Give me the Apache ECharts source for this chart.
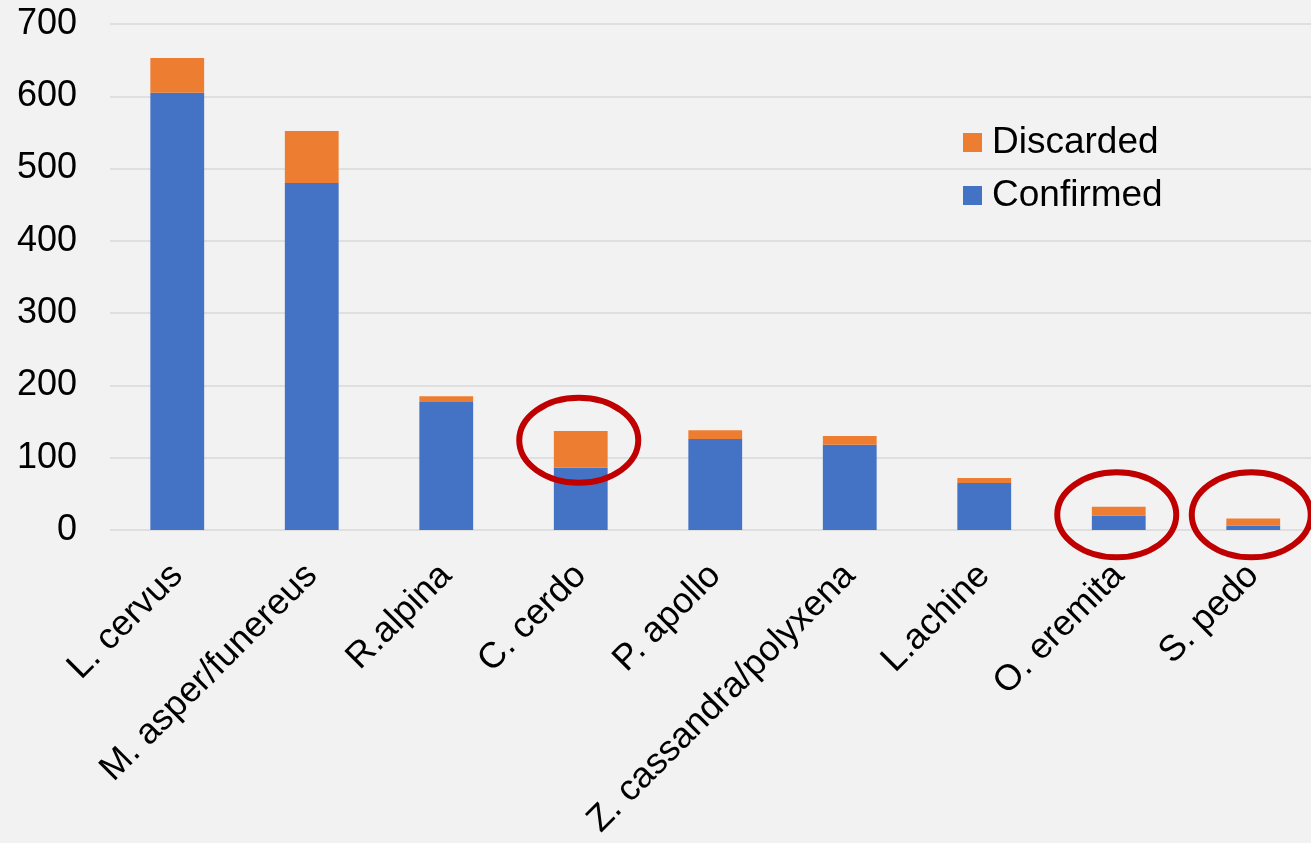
<!DOCTYPE html>
<html>
<head>
<meta charset="utf-8">
<script src="https://cdn.jsdelivr.net/npm/echarts@6/dist/echarts.min.js"></script>
<style>
html,body{margin:0;padding:0;background:#f2f2f2;}
#chart{width:1311px;height:843px;}
</style>
</head>
<body>
<div id="chart"></div>
<script>
const categories = ['L. cervus','M. asper/funereus','R.alpina','C. cerdo','P. apollo','Z. cassandra/polyxena','L.achine','O. eremita','S. pedo'];
const confirmed = [605, 480, 177, 86, 126, 118, 65, 20, 6];
const discarded = [48, 72, 8, 51, 12, 12, 7, 12, 10];
const yTicks = [0, 100, 200, 300, 400, 500, 600, 700];
// highlighted categories (index, centre value) for the red ellipse annotations
const highlights = [[3, 124], [7, 21], [8, 21]];

const font = '"Liberation Sans", Arial, sans-serif';
const chart = echarts.init(document.getElementById('chart'), null, {renderer: 'canvas'});
chart.setOption({
  backgroundColor: '#f2f2f2',
  animation: false,
  textStyle: {fontFamily: font},
  grid: {left: 110, width: 1210.5, top: 24, bottom: 313, containLabel: false, outerBoundsMode: 'none'},
  legend: {
    data: ['Discarded', 'Confirmed'],
    orient: 'vertical',
    left: 963,
    top: 124,
    padding: 0,
    itemGap: 16,
    itemWidth: 19,
    itemHeight: 19,
    icon: 'rect',
    textStyle: {fontFamily: font, fontSize: 37, color: '#000', padding: [0, 0, 0, 5]}
  },
  xAxis: {
    type: 'category',
    data: categories,
    axisLine: {show: false},
    axisTick: {show: false},
    axisLabel: {rotate: 45, fontSize: 36, color: '#000', fontFamily: font, margin: 40, interval: 0}
  },
  yAxis: {
    type: 'value',
    min: yTicks[0],
    max: yTicks[yTicks.length - 1],
    interval: 100,
    axisLine: {show: false},
    axisTick: {show: false},
    axisLabel: {fontSize: 36, color: '#000', fontFamily: font, margin: 33},
    splitLine: {lineStyle: {color: '#d9d9d9', width: 1.5}}
  },
  series: [
    {
      name: 'Confirmed', type: 'bar', stack: 'total', data: confirmed,
      barWidth: '40%',
      itemStyle: {color: '#4472c4'}
    },
    {
      name: 'Discarded', type: 'bar', stack: 'total', data: discarded,
      barWidth: '40%',
      itemStyle: {color: '#ed7d31'}
    },
    {
      name: 'annotation', type: 'custom', data: highlights, z: 10, clip: false,
      silent: true,
      renderItem: function (params, api) {
        const p = api.coord([api.value(0), api.value(1)]);
        return {
          type: 'ellipse',
          shape: {cx: p[0] - 2, cy: p[1], rx: 59.5, ry: 42.5},
          style: {fill: 'none', stroke: '#c00000', lineWidth: 6}
        };
      }
    }
  ]
});
</script>
</body>
</html>
